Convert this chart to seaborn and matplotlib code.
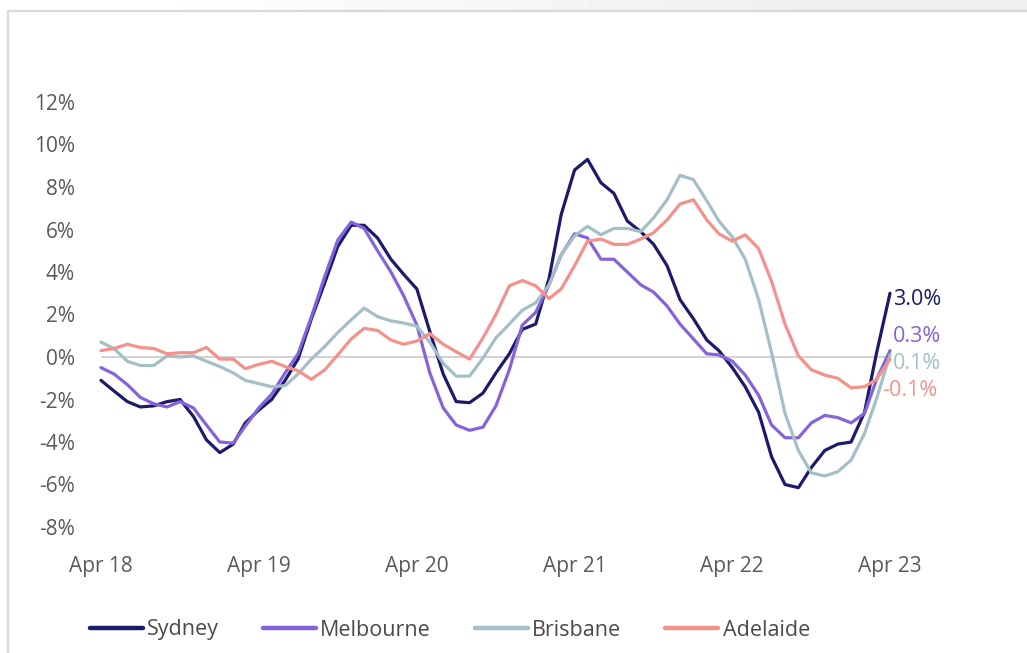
import numpy as np
import pandas as pd
import matplotlib.pyplot as plt
import matplotlib.dates as mdates
from matplotlib.lines import Line2D
import seaborn as sns

# monthly values, Apr 2018 - Apr 2023 (annual change, %)
months = pd.date_range("2018-04-01", periods=61, freq="MS")

sydney = [-1.1, -1.6, -2.1, -2.35, -2.3, -2.1, -2.0, -2.8, -3.9, -4.5, -4.1, -3.1,
          -2.5, -2.0, -1.1, -0.1, 1.8, 3.5, 5.2, 6.2, 6.2, 5.6, 4.6, 3.9,
          3.2, 1.2, -0.8, -2.1, -2.15, -1.7, -0.75, 0.15, 1.3, 1.55, 3.7, 6.7,
          8.8, 9.3, 8.2, 7.7, 6.4, 5.9, 5.3, 4.3, 2.7, 1.8, 0.8, 0.3,
          -0.5, -1.4, -2.6, -4.7, -6.0, -6.15, -5.2, -4.4, -4.1, -4.0, -2.6, 0.2,
          3.0]
melbourne = [-0.5, -0.8, -1.3, -1.9, -2.2, -2.35, -2.1, -2.4, -3.2, -4.0, -4.05, -3.25,
             -2.4, -1.75, -0.75, 0.15, 1.9, 3.8, 5.5, 6.35, 6.05, 5.0, 4.0, 2.9,
             1.5, -0.75, -2.4, -3.2, -3.45, -3.3, -2.3, -0.6, 1.5, 2.1, 3.4, 4.8,
             5.8, 5.6, 4.6, 4.6, 4.0, 3.4, 3.05, 2.4, 1.55, 0.85, 0.15, 0.1,
             -0.2, -0.85, -1.8, -3.2, -3.8, -3.8, -3.1, -2.75, -2.85, -3.1, -2.65, -1.05,
             0.3]
brisbane = [0.7, 0.4, -0.2, -0.4, -0.4, 0.05, 0.0, 0.05, -0.2, -0.45, -0.75, -1.1,
            -1.25, -1.4, -1.35, -0.8, -0.1, 0.5, 1.15, 1.75, 2.3, 1.9, 1.7, 1.6,
            1.45, 0.7, -0.3, -0.9, -0.9, -0.05, 0.9, 1.55, 2.2, 2.55, 3.4, 4.8,
            5.7, 6.15, 5.75, 6.05, 6.05, 5.9, 6.55, 7.4, 8.55, 8.35, 7.35, 6.4,
            5.65, 4.6, 2.7, 0.2, -2.65, -4.4, -5.45, -5.6, -5.4, -4.85, -3.6, -1.95,
            0.1]
adelaide = [0.3, 0.4, 0.6, 0.45, 0.4, 0.15, 0.2, 0.2, 0.45, -0.1, -0.1, -0.55,
            -0.35, -0.2, -0.45, -0.65, -1.05, -0.6, 0.1, 0.85, 1.35, 1.25, 0.8, 0.6,
            0.75, 1.1, 0.6, 0.25, -0.1, 0.9, 2.0, 3.35, 3.6, 3.35, 2.75, 3.2,
            4.3, 5.45, 5.55, 5.3, 5.3, 5.55, 5.85, 6.45, 7.2, 7.4, 6.45, 5.8,
            5.45, 5.75, 5.1, 3.55, 1.55, 0.05, -0.6, -0.85, -1.0, -1.45, -1.4, -1.05,
            -0.1]

cities = ["Sydney", "Melbourne", "Brisbane", "Adelaide"]
end_labels = ["3.0%", "0.3%", "0.1%", "-0.1%"]
label_pos = [2.7, 0.95, -0.3, -1.6]
colors = ["#1b1a6b", "#8463db", "#a4bfc6", "#f2928a"]
yticks = [12, 10, 8, 6, 4, 2, 0, -2, -4, -6, -8]

df = pd.DataFrame({"month": months, "Sydney": sydney, "Melbourne": melbourne,
                   "Brisbane": brisbane, "Adelaide": adelaide})
long = df.melt(id_vars="month", var_name="city", value_name="change")

sns.set_theme(style="white")
plt.rcParams["font.family"] = ["Open Sans", "DejaVu Sans"]

fig = plt.figure(figsize=(10.27, 6.53), dpi=100)
fig.patch.set_facecolor("white")

# grey band + frame at the top/left like the screenshot
band = fig.add_axes([0, 1 - 11 / 653, 1, 11 / 653])
band.imshow(np.concatenate([np.ones(40), np.linspace(1, 0.935, 200), np.full(60, 0.935)])[None, :],
            cmap="gray", vmin=0, vmax=1, aspect="auto")
band.axis("off")
fig.add_artist(Line2D([8 / 1027, 1], [1 - 11 / 653] * 2, transform=fig.transFigure,
                      color="#d8d8d8", lw=1.6))
fig.add_artist(Line2D([8 / 1027] * 2, [0, 1 - 11 / 653], transform=fig.transFigure,
                      color="#d8d8d8", lw=1.6))

ax = fig.add_axes([101 / 1027, 126 / 653, 789 / 1027, 425 / 653])
ax.axhline(0, color="#cfcfcf", lw=1.3, zorder=0)
sns.lineplot(data=long, x="month", y="change", hue="city", hue_order=cities,
             palette=colors, linewidth=2.3, ax=ax, legend=False, clip_on=False)

ax.set_xlim(months[0], months[-1])
ax.set_ylim(-8, 12)
ax.set_yticks(yticks)
ax.set_yticklabels([f"{t}%" for t in yticks])
ax.xaxis.set_major_locator(mdates.MonthLocator(bymonth=4))
ax.xaxis.set_major_formatter(mdates.DateFormatter("%b %y"))
ax.tick_params(axis="both", length=0, labelsize=15, colors="#5a5a5a")
ax.tick_params(axis="y", pad=19)
ax.tick_params(axis="x", pad=21)
ax.set_xlabel("")
ax.set_ylabel("")
sns.despine(ax=ax, left=True, bottom=True)

for lab, yv, c in zip(end_labels, label_pos, colors):
    ax.annotate(lab, xy=(months[-1], yv), xytext=(2 if not lab.startswith("-") else -6, 0),
                textcoords="offset points", color=c, fontsize=15.5, va="center", ha="left",
                fontweight="medium" if lab == "3.0%" else "normal")

handles = [Line2D([], [], color=c, lw=3.2) for c in colors]
fig.legend(handles, cities, loc="center", bbox_to_anchor=(450 / 1027, 1 - 630 / 653), ncol=4,
           frameon=False, fontsize=15.5, handlelength=2.45, handletextpad=0.2,
           columnspacing=2.05, labelcolor="#4a4a4a")

fig.savefig("out.png", dpi=100)
